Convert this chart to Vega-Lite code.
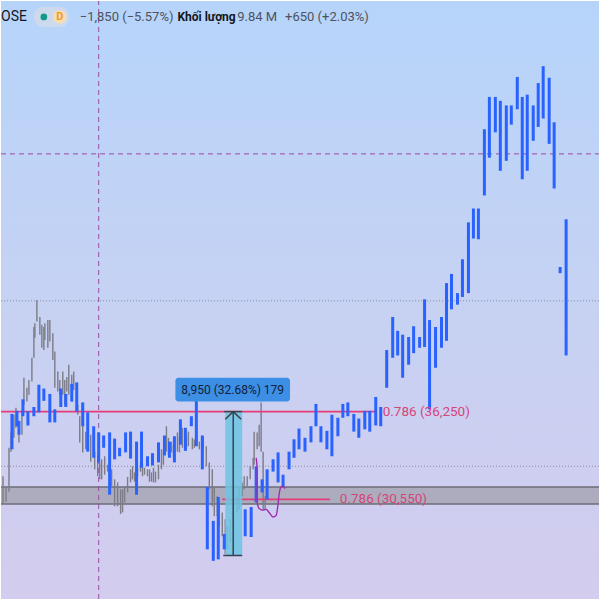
{
  "$schema": "https://vega.github.io/schema/vega-lite/v6.json",
  "width": 600,
  "height": 600,
  "autosize": {"type": "fit", "contains": "padding"},
  "padding": 0,
  "config": {"view": {"stroke": null}},
  "datasets": {
    "bg": [{"t": 0, "t2": 600, "p": 24073, "p2": 62935}],
    "band": [{"t": 0, "t2": 600, "p": 30250, "p2": 31350}],
    "bandedge": [{"t": 0, "t2": 600, "p": 30250}, {"t": 0, "t2": 600, "p": 31350}],
    "dotted": [{"t": 0, "t2": 600, "p": 43450}, {"t": 0, "t2": 600, "p": 32700}],
    "dashh": [{"t": 0, "t2": 600, "p": 53000}],
    "dashv": [{"t": 98, "p": 24073, "p2": 62935}],
    "pink": [{"t": 0, "t2": 377, "p": 36250}, {"t": 222, "t2": 330, "p": 30550}],
    "pinklab": [{"t": 383, "p": 36250, "label": "0.786 (36,250)"}, {"t": 340, "p": 30550, "label": "0.786 (30,550)"}],
    "gray": [
      {"t": 2, "p": 32050, "p2": 30250}, {"t": 5, "p": 31350, "p2": 30400}, {"t": 8, "p": 33900, "p2": 31050},
      {"t": 10, "p": 34900, "p2": 33650}, {"t": 13, "p": 36050, "p2": 34550}, {"t": 15, "p": 36500, "p2": 35200},
      {"t": 18, "p": 35400, "p2": 34250}, {"t": 21, "p": 36250, "p2": 34750}, {"t": 23, "p": 38450, "p2": 36700},
      {"t": 26, "p": 37800, "p2": 36900}, {"t": 28, "p": 38300, "p2": 37350}, {"t": 31, "p": 39750, "p2": 38200},
      {"t": 33, "p": 41750, "p2": 39750}, {"t": 34, "p": 42000, "p2": 41050}, {"t": 36, "p": 43500, "p2": 42100},
      {"t": 39, "p": 42400, "p2": 41250}, {"t": 41, "p": 41900, "p2": 40400}, {"t": 43, "p": 41750, "p2": 40250},
      {"t": 44, "p": 42000, "p2": 40900}, {"t": 47, "p": 42200, "p2": 40400}, {"t": 49, "p": 42200, "p2": 40800},
      {"t": 52, "p": 41350, "p2": 39600}, {"t": 54, "p": 40150, "p2": 37800}, {"t": 57, "p": 38850, "p2": 37550},
      {"t": 59, "p": 38300, "p2": 37350}, {"t": 62, "p": 38850, "p2": 37350}, {"t": 64, "p": 38300, "p2": 36700},
      {"t": 66, "p": 38500, "p2": 37550}, {"t": 68, "p": 39300, "p2": 37350}, {"t": 71, "p": 38650, "p2": 37550},
      {"t": 73, "p": 38850, "p2": 37650}, {"t": 77, "p": 36700, "p2": 36050}, {"t": 79, "p": 35950, "p2": 34250},
      {"t": 82, "p": 35400, "p2": 33600}, {"t": 85, "p": 34950, "p2": 33800}, {"t": 90, "p": 34750, "p2": 33000},
      {"t": 94, "p": 33650, "p2": 32500}, {"t": 97, "p": 33450, "p2": 32050}, {"t": 99, "p": 32950, "p2": 31850},
      {"t": 101, "p": 33150, "p2": 31850}, {"t": 104, "p": 33350, "p2": 32150}, {"t": 107, "p": 32800, "p2": 32350},
      {"t": 111, "p": 32500, "p2": 31400}, {"t": 114, "p": 31850, "p2": 30100}, {"t": 117, "p": 31650, "p2": 30100},
      {"t": 120, "p": 31200, "p2": 29600}, {"t": 122, "p": 31200, "p2": 29700}, {"t": 124, "p": 31400, "p2": 30350},
      {"t": 127, "p": 32000, "p2": 31000}, {"t": 130, "p": 32500, "p2": 31650}, {"t": 132, "p": 32700, "p2": 31850},
      {"t": 134, "p": 32300, "p2": 31700}, {"t": 137, "p": 32600, "p2": 32050}, {"t": 140, "p": 33000, "p2": 32350},
      {"t": 142, "p": 32800, "p2": 32050}, {"t": 144, "p": 32600, "p2": 32150}, {"t": 147, "p": 32500, "p2": 32050},
      {"t": 149, "p": 32500, "p2": 31700}, {"t": 151, "p": 32300, "p2": 31700}, {"t": 153, "p": 32600, "p2": 31650},
      {"t": 155, "p": 32350, "p2": 31650}, {"t": 158, "p": 32800, "p2": 31850}, {"t": 161, "p": 33800, "p2": 32500},
      {"t": 163, "p": 33800, "p2": 32800}, {"t": 166, "p": 35300, "p2": 33650}, {"t": 168, "p": 34550, "p2": 33450},
      {"t": 171, "p": 34300, "p2": 33600}, {"t": 173, "p": 34100, "p2": 33250}, {"t": 177, "p": 34900, "p2": 33650},
      {"t": 179, "p": 34650, "p2": 33600}, {"t": 182, "p": 35200, "p2": 33900}, {"t": 186, "p": 34750, "p2": 33800},
      {"t": 188, "p": 34950, "p2": 34000}, {"t": 192, "p": 34550, "p2": 33800}, {"t": 194, "p": 34450, "p2": 33900},
      {"t": 199, "p": 34300, "p2": 33800}, {"t": 203, "p": 34650, "p2": 33800}, {"t": 206, "p": 34000, "p2": 32700},
      {"t": 209, "p": 32950, "p2": 31200}, {"t": 212, "p": 32500, "p2": 30100}, {"t": 214, "p": 31350, "p2": 29450},
      {"t": 217, "p": 30750, "p2": 29450}, {"t": 219, "p": 30350, "p2": 28800}, {"t": 222, "p": 29700, "p2": 28150},
      {"t": 225, "p": 29250, "p2": 27000}, {"t": 227, "p": 28800, "p2": 27300}, {"t": 230, "p": 29250, "p2": 27750},
      {"t": 233, "p": 30350, "p2": 28800}, {"t": 237, "p": 30750, "p2": 29700}, {"t": 239, "p": 31400, "p2": 29900},
      {"t": 242, "p": 31650, "p2": 30750}, {"t": 244, "p": 32050, "p2": 31200}, {"t": 247, "p": 32050, "p2": 31400},
      {"t": 250, "p": 32700, "p2": 31850}, {"t": 253, "p": 33250, "p2": 32500}, {"t": 254, "p": 34950, "p2": 32800},
      {"t": 257, "p": 34900, "p2": 33800}, {"t": 259, "p": 35400, "p2": 34000}, {"t": 261, "p": 36850, "p2": 33650},
      {"t": 263, "p": 33650, "p2": 29900}, {"t": 265, "p": 30750, "p2": 29900}
    ],
    "blue": [
      {"t": 11, "p": 36100, "p2": 33800}, {"t": 16, "p": 36300, "p2": 35300}, {"t": 18, "p": 35650, "p2": 34750},
      {"t": 22, "p": 37050, "p2": 35950}, {"t": 27, "p": 36250, "p2": 35350}, {"t": 33, "p": 36550, "p2": 35950},
      {"t": 38, "p": 38000, "p2": 36200}, {"t": 43, "p": 37750, "p2": 36950}, {"t": 49, "p": 37400, "p2": 35550},
      {"t": 54, "p": 36400, "p2": 35550}, {"t": 60, "p": 37750, "p2": 36550}, {"t": 65, "p": 37400, "p2": 36550},
      {"t": 71, "p": 38050, "p2": 36900}, {"t": 76, "p": 38150, "p2": 36250}, {"t": 82, "p": 36850, "p2": 35300},
      {"t": 87, "p": 36200, "p2": 33650}, {"t": 93, "p": 35300, "p2": 33250}, {"t": 98, "p": 34900, "p2": 32950},
      {"t": 103, "p": 34700, "p2": 33900}, {"t": 109, "p": 34900, "p2": 30850}, {"t": 114, "p": 34500, "p2": 33150},
      {"t": 119, "p": 33900, "p2": 33350}, {"t": 125, "p": 34900, "p2": 33600}, {"t": 130, "p": 34950, "p2": 33200},
      {"t": 136, "p": 34300, "p2": 30850}, {"t": 141, "p": 34950, "p2": 32600}, {"t": 147, "p": 33350, "p2": 32700},
      {"t": 152, "p": 33550, "p2": 32750}, {"t": 158, "p": 34250, "p2": 32950}, {"t": 164, "p": 34700, "p2": 33400},
      {"t": 169, "p": 34300, "p2": 33250}, {"t": 174, "p": 34650, "p2": 32950}, {"t": 180, "p": 35750, "p2": 34100},
      {"t": 185, "p": 35200, "p2": 33700}, {"t": 191, "p": 35950, "p2": 35300}, {"t": 196, "p": 36950, "p2": 34000},
      {"t": 202, "p": 34700, "p2": 32500}, {"t": 207, "p": 31350, "p2": 27300}, {"t": 213, "p": 29150, "p2": 26550},
      {"t": 218, "p": 30700, "p2": 26650}, {"t": 224, "p": 28300, "p2": 27300}, {"t": 245, "p": 29900, "p2": 28150},
      {"t": 251, "p": 30050, "p2": 28100}, {"t": 256, "p": 32700, "p2": 30350}, {"t": 262, "p": 31850, "p2": 31000},
      {"t": 267, "p": 32500, "p2": 30550}, {"t": 273, "p": 33150, "p2": 32350}, {"t": 278, "p": 33600, "p2": 31650},
      {"t": 283, "p": 32150, "p2": 31400}, {"t": 289, "p": 33650, "p2": 32500}, {"t": 294, "p": 34450, "p2": 33250},
      {"t": 299, "p": 35150, "p2": 33800}, {"t": 305, "p": 34550, "p2": 33650}, {"t": 311, "p": 35300, "p2": 34250},
      {"t": 316, "p": 36750, "p2": 35300}, {"t": 321, "p": 35300, "p2": 34250}, {"t": 327, "p": 35000, "p2": 33800},
      {"t": 332, "p": 36050, "p2": 33350}, {"t": 338, "p": 35850, "p2": 34650}, {"t": 343, "p": 36750, "p2": 35850},
      {"t": 348, "p": 36850, "p2": 35950}, {"t": 354, "p": 36100, "p2": 34950}, {"t": 359, "p": 35800, "p2": 34550},
      {"t": 365, "p": 36300, "p2": 35100}, {"t": 370, "p": 36300, "p2": 34950}, {"t": 376, "p": 37200, "p2": 35350},
      {"t": 381, "p": 36550, "p2": 35300}, {"t": 387, "p": 40250, "p2": 37800}, {"t": 393, "p": 42400, "p2": 39750},
      {"t": 398, "p": 41500, "p2": 39900}, {"t": 403, "p": 41250, "p2": 38450}, {"t": 409, "p": 41100, "p2": 39300},
      {"t": 414, "p": 41800, "p2": 40050}, {"t": 420, "p": 41100, "p2": 40400}, {"t": 425, "p": 43550, "p2": 40450},
      {"t": 430, "p": 42200, "p2": 36400}, {"t": 436, "p": 41750, "p2": 39100}, {"t": 442, "p": 42400, "p2": 40400},
      {"t": 447, "p": 44600, "p2": 40850}, {"t": 452, "p": 45200, "p2": 42900}, {"t": 458, "p": 43950, "p2": 43200},
      {"t": 463, "p": 46150, "p2": 43700}, {"t": 469, "p": 48550, "p2": 43950}, {"t": 474, "p": 49450, "p2": 47500},
      {"t": 479, "p": 49450, "p2": 47450}, {"t": 485, "p": 54600, "p2": 50300}, {"t": 490, "p": 56700, "p2": 52750},
      {"t": 496, "p": 56700, "p2": 54400}, {"t": 501, "p": 56450, "p2": 51900}, {"t": 507, "p": 56150, "p2": 52550},
      {"t": 512, "p": 56150, "p2": 54900}, {"t": 518, "p": 58000, "p2": 55900}, {"t": 523, "p": 56700, "p2": 51350},
      {"t": 528, "p": 56850, "p2": 51900}, {"t": 534, "p": 56150, "p2": 53850}, {"t": 539, "p": 57600, "p2": 54750},
      {"t": 544, "p": 58700, "p2": 55300}, {"t": 550, "p": 57950, "p2": 53650}, {"t": 555, "p": 55050, "p2": 50750},
      {"t": 561, "p": 45650, "p2": 45250}, {"t": 567, "p": 48750, "p2": 39900}
    ],
    "measure": [{"t": 225, "t2": 242, "p": 36250, "p2": 26900}],
    "arrowlines": [
      {"t": 233, "t2": 233, "p": 36250, "p2": 26900},
      {"t": 224, "t2": 242, "p": 36250, "p2": 36250},
      {"t": 223, "t2": 242, "p": 26900, "p2": 26900},
      {"t": 233, "t2": 225, "p": 36250, "p2": 35750},
      {"t": 233, "t2": 241, "p": 36250, "p2": 35750}
    ],
    "curve": [
      {"t": 256, "p": 33250, "o": 0}, {"t": 257, "p": 32500, "o": 1}, {"t": 257, "p": 31200, "o": 2},
      {"t": 257, "p": 30350, "o": 3}, {"t": 259, "p": 29950, "o": 4}, {"t": 262, "p": 29850, "o": 5},
      {"t": 266, "p": 29900, "o": 6}, {"t": 269, "p": 29700, "o": 7}, {"t": 273, "p": 29400, "o": 8},
      {"t": 276, "p": 29500, "o": 9}, {"t": 278, "p": 30250, "o": 10}, {"t": 279, "p": 30850, "o": 11},
      {"t": 281, "p": 31350, "o": 12}, {"t": 283, "p": 31400, "o": 13}, {"t": 285, "p": 31250, "o": 14}
    ],
    "labelbox": [{"t": 175, "t2": 290, "p": 38450, "p2": 36900}],
    "labeltext": [{"t": 232.5, "p": 37650, "label": "8,950 (32.68%) 179"}],
    "pill": [{"t": 33, "t2": 68, "p": 61250, "p2": 62550}],
    "dot": [{"t": 43, "p": 61899}],
    "dcircle": [{"t": 59, "p": 61899, "label": "D"}],
    "hdrdark": [{"t": 0, "p": 61899, "label": "OSE"}],
    "hdrbold": [{"t": 177, "p": 61899, "label": "Khối lượng"}],
    "hdrgray": [
      {"t": 79, "p": 61899, "label": "−1,850 (−5.57%)"},
      {"t": 237, "p": 61899, "label": "9.84 M"},
      {"t": 285, "p": 61899, "label": "+650 (+2.03%)"}
    ]
  },
  "encoding": {
    "x": {"field": "t", "type": "quantitative", "scale": {"domain": [0, 600], "nice": false, "zero": false}, "axis": null},
    "y": {"field": "p", "type": "quantitative", "scale": {"domain": [24073, 62935], "nice": false, "zero": false}, "axis": null}
  },
  "layer": [
    {
      "data": {"name": "bg"},
      "mark": {"type": "rect", "fill": {"gradient": "linear", "x1": 0, "y1": 0, "x2": 0, "y2": 1, "stops": [{"offset": 0, "color": "#b6d4fa"}, {"offset": 0.5, "color": "#c6d2f3"}, {"offset": 1, "color": "#d3ccee"}]}},
      "encoding": {"x2": {"field": "t2"}, "y2": {"field": "p2"}}
    },
    {
      "data": {"name": "band"},
      "mark": {"type": "rect", "fill": "#adacbf"},
      "encoding": {"x2": {"field": "t2"}, "y2": {"field": "p2"}}
    },
    {
      "data": {"name": "bandedge"},
      "mark": {"type": "rule", "color": "#6c6c77", "strokeWidth": 1.5},
      "encoding": {"x2": {"field": "t2"}}
    },
    {
      "data": {"name": "dotted"},
      "mark": {"type": "rule", "color": "#8b8e9c", "strokeWidth": 1, "strokeDash": [1, 2]},
      "encoding": {"x2": {"field": "t2"}}
    },
    {
      "data": {"name": "dashh"},
      "mark": {"type": "rule", "color": "#9a4ea3", "strokeWidth": 1, "strokeDash": [5, 4]},
      "encoding": {"x2": {"field": "t2"}}
    },
    {
      "data": {"name": "dashv"},
      "mark": {"type": "rule", "color": "#9a4ea3", "strokeWidth": 1, "strokeDash": [5, 4]},
      "encoding": {"y2": {"field": "p2"}}
    },
    {
      "data": {"name": "gray"},
      "mark": {"type": "rule", "color": "#7c7c86", "strokeWidth": 1.4},
      "encoding": {"y2": {"field": "p2"}}
    },
    {
      "data": {"name": "pink"},
      "mark": {"type": "rule", "color": "#e43d77", "strokeWidth": 1.6},
      "encoding": {"x2": {"field": "t2"}}
    },
    {
      "data": {"name": "measure"},
      "mark": {"type": "rect", "fill": "#6cc4e2", "opacity": 0.85},
      "encoding": {"x2": {"field": "t2"}, "y2": {"field": "p2"}}
    },
    {
      "data": {"name": "blue"},
      "mark": {"type": "rule", "color": "#2962ff", "strokeWidth": 3},
      "encoding": {"y2": {"field": "p2"}}
    },
    {
      "data": {"name": "arrowlines"},
      "mark": {"type": "rule", "color": "#3a414e", "strokeWidth": 1.5},
      "encoding": {"x2": {"field": "t2"}, "y2": {"field": "p2"}}
    },
    {
      "data": {"name": "curve"},
      "mark": {"type": "line", "color": "#9c2fae", "strokeWidth": 1.4, "interpolate": "monotone"},
      "encoding": {"order": {"field": "o", "type": "quantitative"}}
    },
    {
      "data": {"name": "pinklab"},
      "mark": {"type": "text", "color": "#d6457a", "font": "Roboto", "fontSize": 13.5, "align": "left", "baseline": "middle"},
      "encoding": {"text": {"field": "label"}}
    },
    {
      "data": {"name": "labelbox"},
      "mark": {"type": "rect", "fill": "#3c8fe5", "cornerRadius": 3},
      "encoding": {"x2": {"field": "t2"}, "y2": {"field": "p2"}}
    },
    {
      "data": {"name": "labeltext"},
      "mark": {"type": "text", "color": "#10203d", "font": "Roboto", "fontSize": 12, "align": "center", "baseline": "middle"},
      "encoding": {"text": {"field": "label"}}
    },
    {
      "data": {"name": "pill"},
      "mark": {"type": "rect", "fill": "#cddaee", "cornerRadius": 9},
      "encoding": {"x2": {"field": "t2"}, "y2": {"field": "p2"}}
    },
    {
      "data": {"name": "dot"},
      "mark": {"type": "point", "filled": true, "shape": "circle", "size": 45, "color": "#12998a", "opacity": 1},
      "encoding": {}
    },
    {
      "data": {"name": "dcircle"},
      "mark": {"type": "point", "filled": true, "shape": "circle", "size": 180, "color": "#f7dcb4", "opacity": 1},
      "encoding": {}
    },
    {
      "data": {"name": "dcircle"},
      "mark": {"type": "text", "color": "#f29d1a", "font": "Roboto", "fontSize": 11, "fontWeight": "bold", "align": "center", "baseline": "middle"},
      "encoding": {"text": {"field": "label"}}
    },
    {
      "data": {"name": "hdrdark"},
      "mark": {"type": "text", "color": "#131722", "font": "Roboto", "fontSize": 14, "align": "left", "baseline": "middle"},
      "encoding": {"text": {"field": "label"}}
    },
    {
      "data": {"name": "hdrbold"},
      "mark": {"type": "text", "color": "#131722", "font": "Roboto", "fontSize": 12, "fontWeight": "bold", "align": "left", "baseline": "middle"},
      "encoding": {"text": {"field": "label"}}
    },
    {
      "data": {"name": "hdrgray"},
      "mark": {"type": "text", "color": "#4e5260", "font": "Roboto", "fontSize": 13, "align": "left", "baseline": "middle"},
      "encoding": {"text": {"field": "label"}}
    }
  ]
}
